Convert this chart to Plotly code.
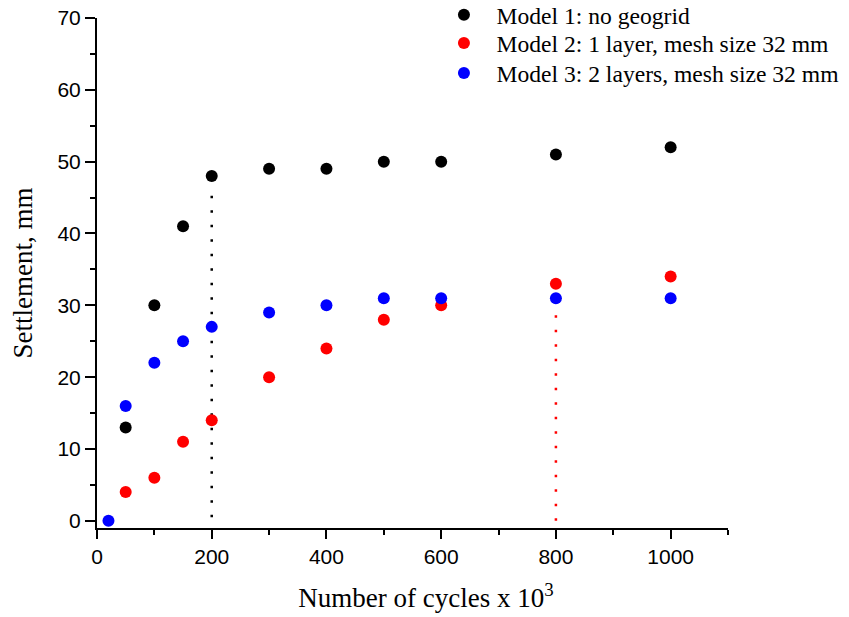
import plotly.graph_objects as go

# ---- data ----
cycles_m1 = [50, 100, 150, 200, 300, 400, 500, 600, 800, 1000]
settle_m1 = [13, 30, 41, 48, 49, 49, 50, 50, 51, 52]

cycles_m2 = [50, 100, 150, 200, 300, 400, 500, 600, 800, 1000]
settle_m2 = [4, 6, 11, 14, 20, 24, 28, 30, 33, 34]

cycles_m3 = [20, 50, 100, 150, 200, 300, 400, 500, 600, 800, 1000]
settle_m3 = [0, 16, 22, 25, 27, 29, 30, 31, 31, 31, 31]

names = ["Model 1: no geogrid",
         "Model 2: 1 layer, mesh size 32 mm",
         "Model 3: 2 layers, mesh size 32 mm"]
colors = ["#000000", "#ff0000", "#0000ff"]

# vertical dotted guide lines (x, bottom, top, colour index)
guide_x = [200, 800]
guide_bottom = [0.5, 0]
guide_top = [46, 30.5]
guide_color = [0, 1]

fig = go.Figure()

for gx, gb, gt, gc in zip(guide_x, guide_bottom, guide_top, guide_color):
    fig.add_trace(go.Scatter(
        x=[gx, gx], y=[gb, gt], mode="lines",
        line=dict(color=colors[gc], width=2.5, dash="2.5px,12px"),
        showlegend=False, hoverinfo="skip"))

legend_ids = ["legend", "legend2", "legend3"]
legend_tops = [1.049, 0.994, 0.935]

for xs, ys, nm, col, lid in zip([cycles_m1, cycles_m2, cycles_m3],
                                [settle_m1, settle_m2, settle_m3],
                                names, colors, legend_ids):
    fig.add_trace(go.Scatter(
        x=xs, y=ys, mode="markers", name=nm, legend=lid,
        marker=dict(color=col, size=12, line=dict(width=0))))

legend_style = dict(xref="paper", yref="paper",
                    xanchor="left", yanchor="top",
                    bgcolor="rgba(0,0,0,0)",
                    font=dict(family="Liberation Serif", size=23.6, color="black"),
                    itemwidth=55, itemsizing="constant")

fig.update_layout(
    width=849, height=617,
    margin=dict(l=89, r=129, t=10, b=97, autoexpand=False),
    plot_bgcolor="white", paper_bgcolor="white",
    showlegend=True,
    legend=dict(x=0.530, y=legend_tops[0], **legend_style),
    legend2=dict(x=0.530, y=legend_tops[1], **legend_style),
    legend3=dict(x=0.530, y=legend_tops[2], **legend_style),
    xaxis=dict(range=[0, 1100], dtick=200, tick0=0, automargin=False,
               showgrid=False, zeroline=False,
               showline=True, linecolor="black", linewidth=2,
               ticks="outside", ticklen=9, tickwidth=2, tickcolor="black",
               minor=dict(dtick=100, ticks="outside", ticklen=5, tickwidth=2, tickcolor="black"),
               tickfont=dict(family="Liberation Sans", size=21, color="black"),
               ticklabeloverflow="allow",
               title=dict(text="&nbsp;&nbsp;&nbsp;&nbsp;Number of cycles x 10<sup>3</sup>",
                          font=dict(family="Liberation Serif", size=27, color="black"),
                          standoff=21)),
    yaxis=dict(range=[-1, 70], dtick=10, tick0=0, automargin=False,
               showgrid=False, zeroline=False,
               showline=True, linecolor="black", linewidth=2,
               ticks="outside", ticklen=10, tickwidth=2, tickcolor="black",
               minor=dict(dtick=5, ticks="outside", ticklen=5, tickwidth=2, tickcolor="black"),
               tickfont=dict(family="Liberation Sans", size=21, color="black"),
               ticklabeloverflow="allow",
               title=dict(text="Settlement, mm",
                          font=dict(family="Liberation Serif", size=27, color="black"),
                          standoff=30)),
)

fig.write_html("out.html")
